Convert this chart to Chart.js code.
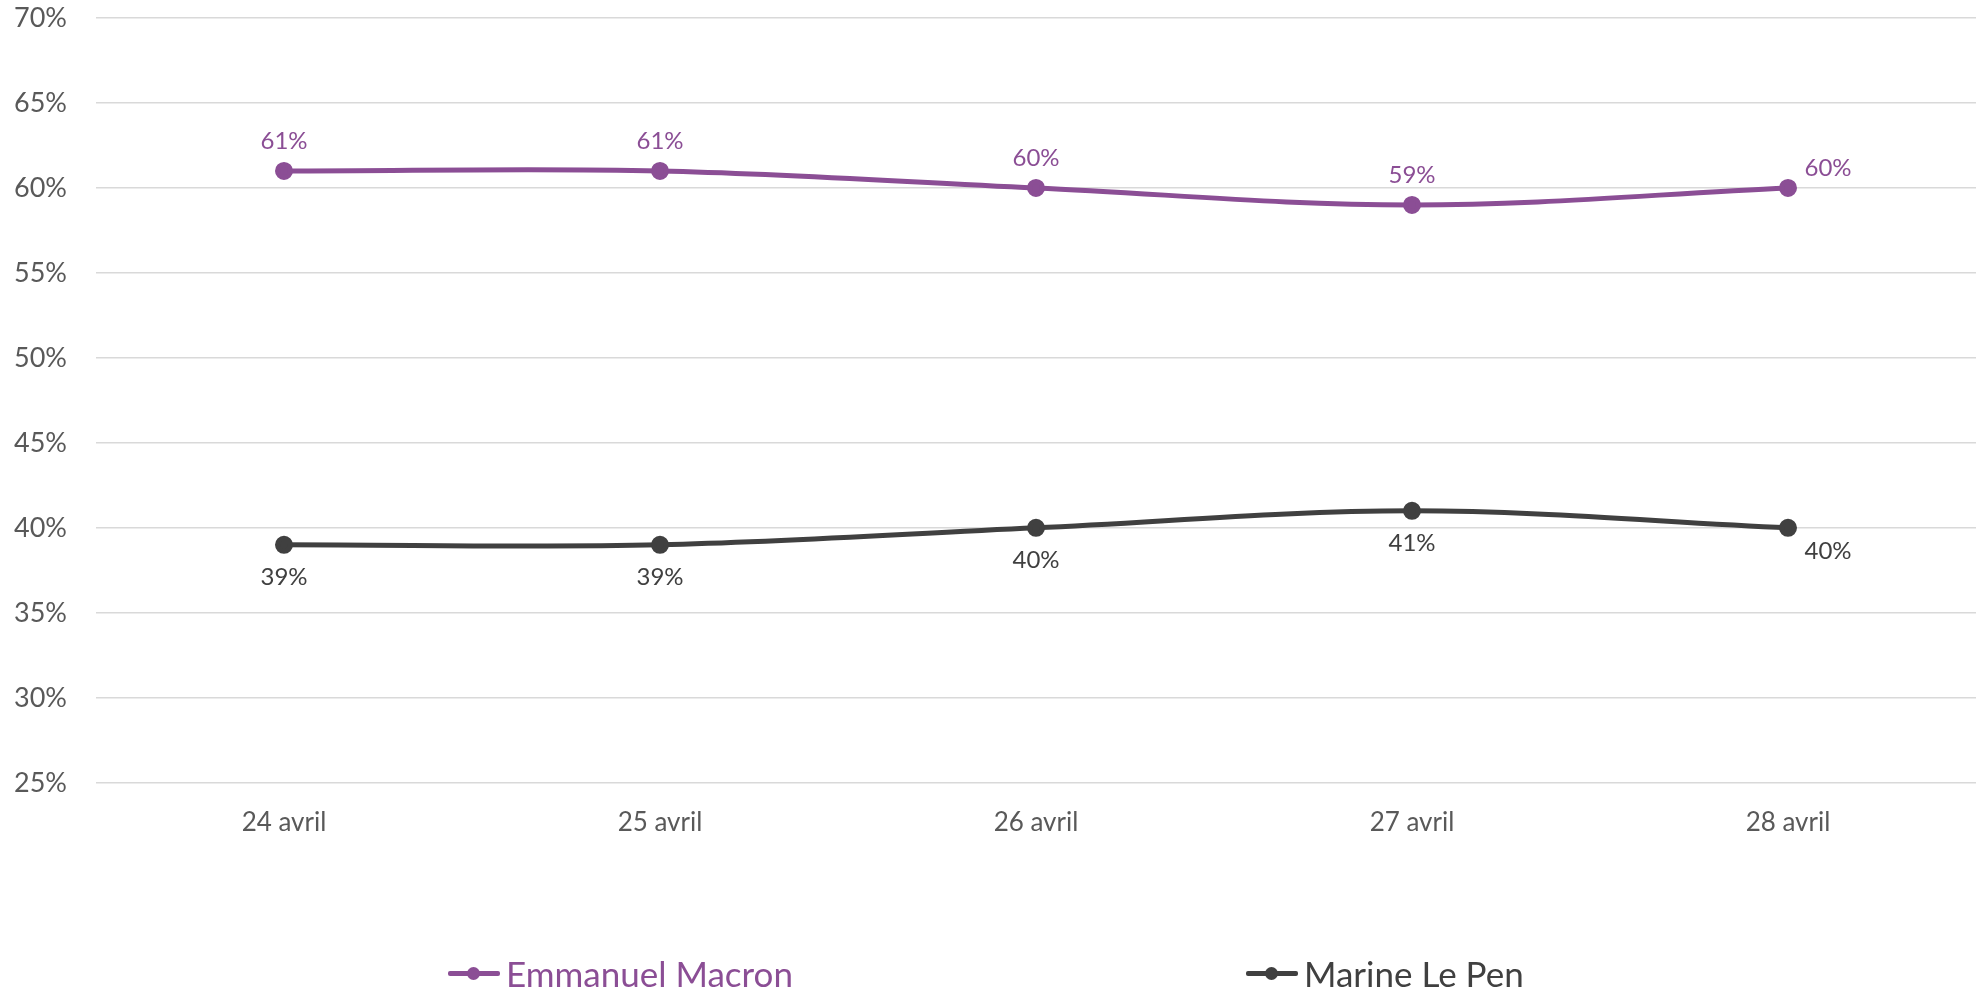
<!DOCTYPE html>
<html lang="fr">
<head>
  <meta charset="UTF-8">
  <title>Macron / Le Pen</title>
  <style>
    html, body { margin: 0; padding: 0; background: #fff; overflow: hidden; font-family: Lato, "Noto Sans", sans-serif; }
    .wrap { position: relative; width: 1978px; height: 990px; overflow: hidden; }
    #legende { position: absolute; left: 0; top: 953px; width: 1978px; height: 37px; }
    .item { position: absolute; top: 0; display: flex; align-items: center; font-size: 35px; line-height: 40px; white-space: nowrap; }
    .marque { position: relative; width: 52px; height: 40px; margin-right: 6px; }
    .marque .trait { position: absolute; left: 0; top: 18px; width: 52px; height: 5px; border-radius: 2px; }
    .marque .rond { position: absolute; left: 19px; top: 14px; width: 13px; height: 13px; border-radius: 50%; }
  </style>
  <script src="https://cdn.jsdelivr.net/npm/chart.js"></script>
</head>
<body>
  <div class="wrap">
    <canvas id="graphe" width="1978" height="990"></canvas>
    <div id="legende"></div>
  </div>

  <script>
    // donnees
    const dates = ['24 avril', '25 avril', '26 avril', '27 avril', '28 avril'];
    const macron = [61, 61, 60, 59, 60];
    const lepen = [39, 39, 40, 41, 40];
    const noms = ['Emmanuel Macron', 'Marine Le Pen'];
    const couleurs = ['#8B4E95', '#404040'];
    const yMin = 25, yMax = 70, yPas = 5;

    // etiquettes de valeurs (au-dessus pour Macron, en dessous pour Le Pen)
    const etiquettes = {
      id: 'etiquettes',
      afterDatasetsDraw(chart) {
        const ctx = chart.ctx;
        ctx.save();
        ctx.font = '24px Lato, "Noto Sans", sans-serif';
        ctx.textAlign = 'center';
        ctx.textBaseline = 'middle';
        chart.data.datasets.forEach((ds, i) => {
          const meta = chart.getDatasetMeta(i);
          ctx.fillStyle = ds.borderColor;
          meta.data.forEach((pt, j) => {
            let dx = 0;
            let dy = ds.dessus ? -30 : 32;
            if (j === meta.data.length - 1) { dx = 40; dy = ds.dessus ? -20 : 23; }
            ctx.fillText(ds.data[j] + '%', pt.x + dx, pt.y + dy);
          });
        });
        ctx.restore();
      }
    };

    const ctx = document.getElementById('graphe').getContext('2d');
    const myChart = new Chart(ctx, {
      type: 'line',
      data: {
        labels: dates,
        datasets: [
          {
            label: noms[0], data: macron, dessus: true,
            borderColor: couleurs[0], backgroundColor: couleurs[0],
            borderWidth: 5, pointRadius: 6.5, pointHoverRadius: 6.5, tension: 0.35
          },
          {
            label: noms[1], data: lepen, dessus: false,
            borderColor: couleurs[1], backgroundColor: couleurs[1],
            borderWidth: 5, pointRadius: 6.5, pointHoverRadius: 6.5, tension: 0.35
          }
        ]
      },
      options: {
        responsive: false,
        animation: false,
        layout: { autoPadding: false, padding: { left: 14, right: 2, top: 18, bottom: 128 } },
        plugins: { legend: { display: false }, tooltip: { enabled: false } },
        scales: {
          x: {
            offset: true,
            grid: { display: false, drawTicks: false },
            border: { display: false },
            ticks: { color: '#595959', padding: 24, font: { family: 'Lato', size: 26 } }
          },
          y: {
            min: yMin, max: yMax,
            afterFit: s => { s.width = 82; },
            grid: { color: '#d9d9d9', lineWidth: 1.5, drawTicks: false },
            border: { display: false },
            ticks: {
              stepSize: yPas, crossAlign: 'far', padding: 0,
              color: '#595959', font: { family: 'Lato', size: 27 },
              callback: v => v + '%'
            }
          }
        }
      },
      plugins: [etiquettes]
    });

    // legende en HTML sous le graphe
    const positions = [448, 1246];
    const leg = document.getElementById('legende');
    noms.forEach((nom, i) => {
      const el = document.createElement('div');
      el.className = 'item';
      el.style.left = positions[i] + 'px';
      el.style.color = couleurs[i];
      el.innerHTML = '<span class="marque"><span class="trait" style="background:' + couleurs[i] +
        '"></span><span class="rond" style="background:' + couleurs[i] + '"></span></span>' + nom;
      leg.appendChild(el);
    });
  </script>
</body>
</html>
